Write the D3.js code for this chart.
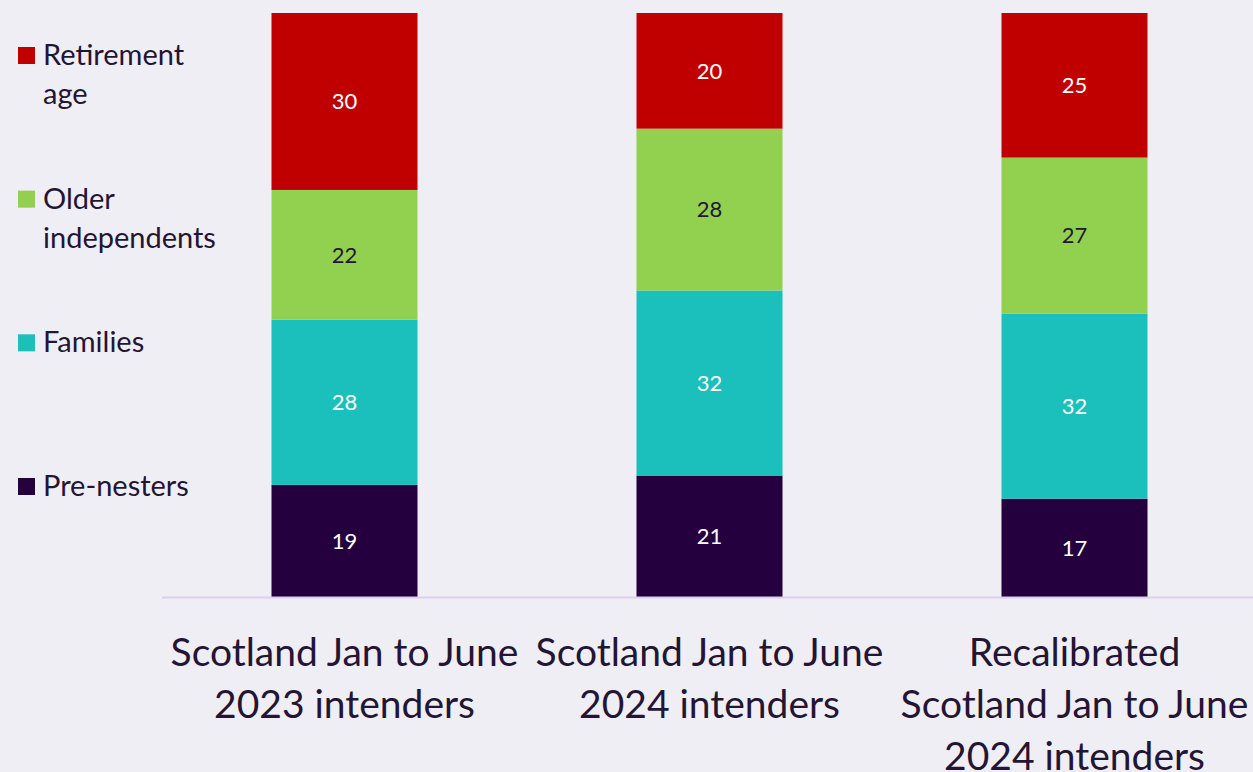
<!DOCTYPE html>
<html>
<head>
<meta charset="utf-8">
<script src="https://cdn.jsdelivr.net/npm/d3@7"></script>
<style>
  html, body { margin: 0; padding: 0; background: #efeef4; }
  svg { display: block; font-family: Lato, "Open Sans", sans-serif; }
</style>
</head>
<body>
<div id="chart"></div>
<script>
// chart data
var categories = [
    ['Scotland Jan to June', '2023 intenders'],
    ['Scotland Jan to June', '2024 intenders'],
    ['Recalibrated', 'Scotland Jan to June', '2024 intenders']
];
var seriesNames = ['Pre-nesters', 'Families', 'Older independents', 'Retirement age'];
var legendLines = [['Pre-nesters'], ['Families'], ['Older', 'independents'], ['Retirement', 'age']];
var seriesColors = ['#24003f', '#1bbfbc', '#92d050', '#c00000'];
var labelColors = ['#ffffff', '#ffffff', '#231533', '#ffffff'];
var preNesters = [19, 21, 17];
var families = [28, 32, 32];
var olderIndependents = [22, 28, 27];
var retirementAge = [30, 20, 25];

var width = 1253,
    height = 772,
    margin = {top: 13, left: 162, right: -4, bottom: 175},
    textColor = '#231533';

var svg = d3.select('#chart').append('svg')
    .attr('width', width)
    .attr('height', height);

var rows = categories.map(function (c, i) {
    return {
        key: i,
        'Pre-nesters': preNesters[i],
        'Families': families[i],
        'Older independents': olderIndependents[i],
        'Retirement age': retirementAge[i]
    };
});

// each bar is shown as a share of its own total
var stacked = d3.stack()
    .keys(seriesNames)
    .offset(d3.stackOffsetExpand)(rows);

var x = d3.scaleBand()
    .domain(d3.range(categories.length))
    .range([margin.left, width - margin.right])
    .paddingInner(0.6)
    .paddingOuter(0.3);

var y = d3.scaleLinear()
    .domain([0, 1])
    .range([height - margin.bottom, margin.top]);

var layers = svg.append('g').selectAll('g')
    .data(stacked)
    .join('g')
    .attr('fill', function (d, i) { return seriesColors[i]; });

layers.selectAll('rect')
    .data(function (d) { return d; })
    .join('rect')
    .attr('x', function (d, i) { return x(i); })
    .attr('width', x.bandwidth())
    .attr('y', function (d) { return y(d[1]); })
    .attr('height', function (d) { return y(d[0]) - y(d[1]); });

layers.each(function (layer, li) {
    d3.select(this).selectAll('text')
        .data(layer)
        .join('text')
        .attr('x', function (d, i) { return x(i) + x.bandwidth() / 2; })
        .attr('y', function (d) { return (y(d[0]) + y(d[1])) / 2; })
        .attr('dy', '0.35em')
        .attr('text-anchor', 'middle')
        .attr('fill', labelColors[li])
        .style('font-size', '22px')
        .text(function (d) { return d.data[layer.key]; });
});

// baseline
svg.append('line')
    .attr('x1', margin.left)
    .attr('x2', width)
    .attr('y1', y(0) + 0.5)
    .attr('y2', y(0) + 0.5)
    .attr('stroke', '#dcd0ee')
    .attr('stroke-width', 2);

// category labels
var catLabels = svg.append('g').selectAll('text')
    .data(categories)
    .join('text')
    .attr('text-anchor', 'middle')
    .attr('fill', textColor)
    .style('font-size', '39px');

catLabels.selectAll('tspan')
    .data(function (d, i) { return d.map(function (t) { return {t: t, i: i}; }); })
    .join('tspan')
    .attr('x', function (d) { return x(d.i) + x.bandwidth() / 2; })
    .attr('y', function (d, j) { return 666 + j * 52; })
    .text(function (d) { return d.t; });

// legend
var legendY = d3.scaleLinear().domain([0, 3]).range([486, 55]);
var legend = svg.append('g').selectAll('g')
    .data(legendLines)
    .join('g')
    .attr('transform', function (d, i) { return 'translate(18,' + legendY(i) + ')'; });

legend.append('rect')
    .attr('x', 0)
    .attr('y', -8)
    .attr('width', 17)
    .attr('height', 17)
    .attr('fill', function (d, i) { return seriesColors[i]; });

legend.append('text')
    .attr('fill', textColor)
    .style('font-size', '29px')
    .selectAll('tspan')
    .data(function (d) { return d; })
    .join('tspan')
    .attr('x', 25)
    .attr('y', function (d, j) { return 10 + j * 39; })
    .text(function (d) { return d; });
</script>
</body>
</html>
